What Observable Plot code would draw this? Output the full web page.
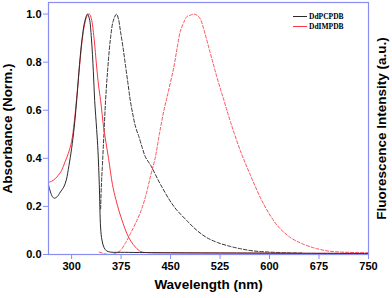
<!DOCTYPE html>
<html>
<head>
<meta charset="utf-8">
<script src="https://cdn.jsdelivr.net/npm/d3@7"></script>
<script src="https://cdn.jsdelivr.net/npm/@observablehq/plot@0.6"></script>
<style>
  html, body { margin: 0; padding: 0; background: #fff; }
  #chart { width: 392px; height: 298px; }
</style>
</head>
<body>
<div id="chart"></div>
<script>
// DdPCPDB absorbance (solid black)
const absPC_wl = [265,268,271,274,278,283,288,292,296,300,304,308,312,316,320,324,327,330,333,335,338,340,342,344,346,349,353,359,380,450,550,650,750];
const absPC_y  = [0.29,0.26,0.24,0.234,0.24,0.26,0.28,0.31,0.37,0.44,0.53,0.65,0.79,0.9,0.97,1.0,0.98,0.9,0.76,0.64,0.52,0.43,0.29,0.11,0.06,0.03,0.015,0.01,0.009,0.007,0.006,0.005,0.004];
// DdIMPDB absorbance (solid red)
const absIM_wl = [265,270,275,280,285,290,295,300,304,308,312,316,320,324,327,330,334,338,341,344,349,356,362,367,372,378,384,390,397,405,415,450,550,650,750];
const absIM_y  = [0.30,0.305,0.315,0.33,0.35,0.385,0.42,0.47,0.55,0.66,0.78,0.89,0.96,0.995,1.0,0.98,0.9,0.78,0.7,0.64,0.52,0.4,0.29,0.23,0.18,0.13,0.086,0.055,0.03,0.012,0.008,0.007,0.006,0.005,0.005];
// DdPCPDB fluorescence (dashed black)
const emPC_wl = [344,345,346.5,349,351.5,355,359,363,368,371,374,378,382,386,389,393,397,402,407,412,420,435,455,475,490,505,521,540,556,575,600,625,650];
const emPC_y  = [0.19,0.28,0.36,0.5,0.64,0.78,0.9,0.97,1.0,0.98,0.93,0.86,0.78,0.7,0.64,0.58,0.53,0.49,0.445,0.405,0.37,0.29,0.2,0.14,0.1,0.07,0.05,0.034,0.024,0.015,0.01,0.007,0.006];
// DdIMPDB fluorescence (dashed red)
const emIM_wl = [342,350,359,366,374,381,389,397,405,412,420,427,433,440,446,455,460,465,470,475,480,485,490,495,500,510,520,531,541,556,571,591,612,632,652,672,690,710,730,750];
const emIM_y  = [0.01,0.003,0.0,0.005,0.017,0.045,0.086,0.13,0.18,0.24,0.33,0.405,0.5,0.6,0.67,0.78,0.86,0.93,0.965,0.99,0.995,1.0,0.995,0.98,0.94,0.84,0.74,0.64,0.55,0.43,0.33,0.21,0.12,0.07,0.042,0.024,0.014,0.01,0.008,0.007];

const xTicks = [300,375,450,525,600,675,750];
const yTicks = [0,0.2,0.4,0.6,0.8,1.0];
const seriesNames = ["DdPCPDB","DdIMPDB"];
const xLabel = "Wavelength (nm)";
const yLabel = "Absorbance (Norm.)";
const y2Label = "Fluorescence Intensity (a.u.)";

const zip = (xs, ys) => xs.map((x, i) => ({x, y: ys[i]}));
const blue = "#8a8df2";

const chart = Plot.plot({
  width: 392,
  height: 298,
  marginLeft: 48,
  marginRight: 24,
  marginTop: 2,
  marginBottom: 44,
  style: {fontFamily: "Liberation Sans, Arial, sans-serif", fontSize: "11px", fontWeight: "bold", color: "#000", background: "#fff"},
  x: {domain: [265, 750]},
  y: {domain: [0, 1.048]},
  marks: [
    Plot.line(zip(emIM_wl, emIM_y), {x: "x", y: "y", stroke: "#ff4f5a", strokeWidth: 1, strokeDasharray: "3,2", curve: "catmull-rom"}),
    Plot.line(zip(emPC_wl, emPC_y), {x: "x", y: "y", stroke: "#333", strokeWidth: 1, strokeDasharray: "3.5,2", curve: "catmull-rom"}),
    Plot.line(zip(absIM_wl, absIM_y), {x: "x", y: "y", stroke: "#ff3340", strokeWidth: 1, curve: "catmull-rom"}),
    Plot.line(zip(absPC_wl, absPC_y), {x: "x", y: "y", stroke: "#2a2a2a", strokeWidth: 1, curve: "catmull-rom"}),
    Plot.frame({stroke: blue, strokeWidth: 1.2}),
    Plot.axisX({ticks: xTicks, tickSize: 5, tickPadding: 3, stroke: blue, fill: "#000", label: null}),
    Plot.axisY({ticks: yTicks, tickSize: 5, tickPadding: 2, tickFormat: d3.format(".1f"), stroke: blue, fill: "#000", label: null}),
    Plot.text([xLabel], {frameAnchor: "bottom", dy: 34, text: d => d, textAnchor: "middle", fontSize: 13.5, fontWeight: "bold", fill: "#000"}),
    Plot.text([yLabel], {frameAnchor: "left", dx: -41, rotate: -90, text: d => d, textAnchor: "middle", fontSize: 13.5, fontWeight: "bold", fill: "#000"}),
    Plot.text([y2Label], {frameAnchor: "right", dx: 13.5, rotate: -90, text: d => d, textAnchor: "middle", fontSize: 13.5, fontWeight: "bold", fill: "#000"})
  ]
});

document.getElementById("chart").appendChild(chart);

// legend (inside plot, top right)
const svg = d3.select(chart);
const lg = svg.append("g")
  .attr("font-family", "Liberation Serif, Times New Roman, serif")
  .attr("font-size", "7.5px")
  .attr("font-weight", "bold")
  .attr("text-anchor", "start");
const legendColors = ["#2a2a2a", "#ff3340"];
seriesNames.forEach((name, i) => {
  const yy = 16.5 + i * 10;
  lg.append("line").attr("x1", 293).attr("x2", 307).attr("y1", yy).attr("y2", yy).attr("stroke", legendColors[i]).attr("stroke-width", 1);
  lg.append("text").attr("x", 309).attr("y", yy).attr("dy", "0.35em").attr("fill", "#000").text(name);
});
</script>
</body>
</html>
